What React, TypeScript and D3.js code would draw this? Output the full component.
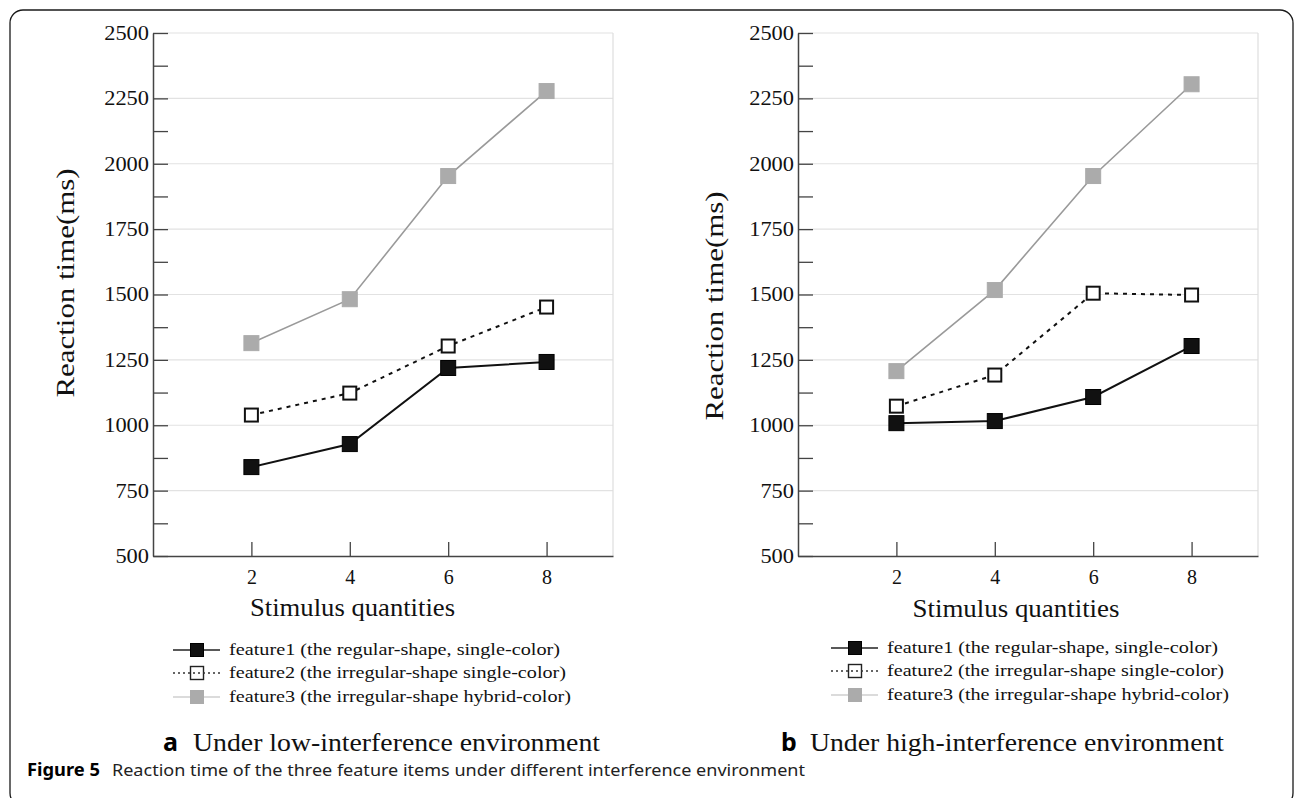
import * as d3 from "d3";
import React, { useEffect, useRef } from "react";

// x categories and y ticks
const quantities = [2, 4, 6, 8];
const yMajorTicks = [500, 750, 1000, 1250, 1500, 1750, 2000, 2250, 2500];
const yMinorTicks = [625, 875, 1125, 1375, 1625, 1875, 2125, 2375];

// (a) low-interference environment
const lowFeature1 = [840, 928, 1219, 1242];
const lowFeature2 = [1039, 1123, 1303, 1452];
const lowFeature3 = [1314, 1482, 1953, 2278];

// (b) high-interference environment
const highFeature1 = [1008, 1016, 1108, 1303];
const highFeature2 = [1073, 1192, 1505, 1498];
const highFeature3 = [1207, 1517, 1953, 2304];

const legendLabels = [
  "feature1 (the regular-shape, single-color)",
  "feature2 (the irregular-shape single-color)",
  "feature3 (the irregular-shape hybrid-color)",
];
const legendWidths = [331, 337, 342];

const SERIF = "'Liberation Serif', 'Times New Roman', Times, serif";
const SANS = "'Noto Sans', 'Open Sans', sans-serif";

const styles = [
  { line: "#111", width: 2, dash: null, fill: "#111", mark: "#000", legendLine: "#222" },
  { line: "#111", width: 2, dash: "4,5", fill: "#fff", mark: "#111", legendLine: "#333" },
  { line: "#9a9a9a", width: 1.6, dash: null, fill: "#ababab", mark: "#ababab", legendLine: "#cfcfcf" },
];

const panels = [
  {
    series: [lowFeature1, lowFeature2, lowFeature3],
    left: 153, right: 613, top: 33, bottom: 556,
    yTitle: { x: 74, y: 283 },
    xTitle: { x: 352.5, y: 616, w: 205 },
    legend: { x: 173, text: 229, ys: [650, 673, 697] },
    letter: "a", letterX: 163,
    sub: "Under low-interference environment", subX: 193, subW: 407,
  },
  {
    series: [highFeature1, highFeature2, highFeature3],
    left: 798, right: 1258, top: 33, bottom: 556,
    yTitle: { x: 723, y: 306 },
    xTitle: { x: 1016, y: 617, w: 207 },
    legend: { x: 831, text: 887, ys: [648, 671, 695] },
    letter: "b", letterX: 781,
    sub: "Under high-interference environment", subX: 810, subW: 414,
  },
];

const App = () => {
  const svgRef = useRef<SVGSVGElement>(null);

  useEffect(() => {
    const svg = d3.select(svgRef.current);
    svg.selectAll("*").remove();

    // frame
    svg
      .append("rect")
      .attr("x", 10)
      .attr("y", 10)
      .attr("width", 1283)
      .attr("height", 796)
      .attr("rx", 13)
      .attr("fill", "none")
      .attr("stroke", "#1a1a1a")
      .attr("stroke-width", 1.3);

    panels.forEach((p) => {
      const g = svg.append("g");
      const x = d3.scaleLinear().domain([0, 9.35]).range([p.left, p.right]);
      const y = d3.scaleLinear().domain([500, 2500]).range([p.bottom, p.top]);

      // gridlines
      g.append("g")
        .selectAll("line")
        .data(yMajorTicks.slice(1))
        .join("line")
        .attr("x1", p.left)
        .attr("x2", p.right)
        .attr("y1", (d) => y(d))
        .attr("y2", (d) => y(d))
        .attr("stroke", "#e2e2e2")
        .attr("stroke-width", 1.2);

      g.append("line")
        .attr("x1", p.right)
        .attr("x2", p.right)
        .attr("y1", p.top)
        .attr("y2", p.bottom)
        .attr("stroke", "#dedede")
        .attr("stroke-width", 1.2);

      // y axis
      const yAxis = g
        .append("g")
        .attr("transform", `translate(${p.left},0)`)
        .call(
          d3
            .axisLeft(y)
            .tickValues(yMajorTicks)
            .tickFormat(d3.format("d"))
            .tickSizeInner(-15)
            .tickSizeOuter(0)
            .tickPadding(4)
        );
      yAxis.select(".domain").attr("stroke", "#444").attr("stroke-width", 1.5);
      yAxis.selectAll(".tick line").attr("stroke", "#444").attr("stroke-width", 1.3);
      yAxis
        .selectAll(".tick text")
        .attr("font-family", SERIF)
        .attr("font-size", 20)
        .attr("fill", "#111")
        .attr("textLength", (d: any) => String(d).length * 11.2)
        .attr("lengthAdjust", "spacingAndGlyphs");

      const yMinor = g
        .append("g")
        .attr("transform", `translate(${p.left},0)`)
        .call(d3.axisLeft(y).tickValues(yMinorTicks).tickSizeInner(-15).tickSizeOuter(0).tickFormat(() => ""));
      yMinor.select(".domain").remove();
      yMinor.selectAll(".tick line").attr("stroke", "#444").attr("stroke-width", 1.3);

      // x axis
      const xAxis = g
        .append("g")
        .attr("transform", `translate(0,${p.bottom})`)
        .call(
          d3.axisBottom(x).tickValues(quantities).tickSizeInner(-14).tickSizeOuter(0).tickPadding(14)
        );
      xAxis.select(".domain").attr("stroke", "#444").attr("stroke-width", 1.5);
      xAxis.selectAll(".tick line").attr("stroke", "#444").attr("stroke-width", 1.3);
      xAxis
        .selectAll(".tick text")
        .attr("font-family", SERIF)
        .attr("font-size", 20)
        .attr("fill", "#111");

      // titles
      g.append("text")
        .attr("transform", `translate(${p.yTitle.x},${p.yTitle.y}) rotate(-90)`)
        .attr("text-anchor", "middle")
        .attr("font-family", SERIF)
        .attr("font-size", 26)
        .attr("textLength", 229)
        .attr("lengthAdjust", "spacingAndGlyphs")
        .attr("fill", "#111")
        .text("Reaction time(ms)");

      g.append("text")
        .attr("x", p.xTitle.x)
        .attr("y", p.xTitle.y)
        .attr("text-anchor", "middle")
        .attr("font-family", SERIF)
        .attr("font-size", 25)
        .attr("textLength", p.xTitle.w)
        .attr("lengthAdjust", "spacingAndGlyphs")
        .attr("fill", "#111")
        .text("Stimulus quantities");

      // series (draw light ones first)
      [2, 1, 0].forEach((i) => {
        const values = p.series[i];
        const s = styles[i];
        const pts = quantities.map((q, k) => [x(q), y(values[k])] as [number, number]);
        g.append("path")
          .datum(pts)
          .attr("fill", "none")
          .attr("stroke", s.line)
          .attr("stroke-width", s.width)
          .attr("stroke-dasharray", s.dash)
          .attr("d", d3.line());
        const size = i === 1 ? 13 : 15;
        g.append("g")
          .selectAll("rect")
          .data(pts)
          .join("rect")
          .attr("x", (d) => d[0] - size / 2)
          .attr("y", (d) => d[1] - size / 2)
          .attr("width", size)
          .attr("height", size)
          .attr("fill", s.fill)
          .attr("stroke", s.mark)
          .attr("stroke-width", i === 1 ? 2 : 1);
      });

      // legend
      legendLabels.forEach((label, i) => {
        const s = styles[i];
        const ly = p.legend.ys[i];
        const lg = g.append("g");
        const cx = p.legend.x + 24;
        const drawLine = () =>
          lg
            .append("line")
            .attr("x1", p.legend.x)
            .attr("x2", p.legend.x + 47)
            .attr("y1", ly)
            .attr("y2", ly)
            .attr("stroke", s.legendLine)
            .attr("stroke-width", i === 1 ? 1.4 : 1.5)
            .attr("stroke-dasharray", i === 1 ? "2,3" : null);
        if (i !== 1) drawLine();
        lg.append("rect")
          .attr("x", cx - 6.5)
          .attr("y", ly - 6.5)
          .attr("width", 13)
          .attr("height", 13)
          .attr("fill", s.fill)
          .attr("stroke", i === 1 ? "#222" : s.mark)
          .attr("stroke-width", i === 1 ? 1.4 : 1);
        if (i === 1) drawLine();
        lg.append("text")
          .attr("x", p.legend.text)
          .attr("y", ly + 5)
          .attr("font-family", SERIF)
          .attr("font-size", 17)
          .attr("textLength", legendWidths[i])
          .attr("lengthAdjust", "spacingAndGlyphs")
          .attr("fill", "#111")
          .text(label);
      });

      // panel subtitle
      g.append("text")
        .attr("x", p.letterX)
        .attr("y", 751)
        .attr("font-family", SANS)
        .attr("font-weight", 700)
        .attr("font-size", 25)
        .attr("fill", "#000")
        .text(p.letter);
      g.append("text")
        .attr("x", p.subX)
        .attr("y", 751)
        .attr("font-family", SERIF)
        .attr("font-size", 25)
        .attr("textLength", p.subW)
        .attr("lengthAdjust", "spacingAndGlyphs")
        .attr("fill", "#111")
        .text(p.sub);
    });

    // figure caption
    svg
      .append("text")
      .attr("x", 27)
      .attr("y", 776)
      .attr("font-family", SANS)
      .attr("font-weight", 700)
      .attr("font-size", 17)
      .attr("textLength", 73)
      .attr("lengthAdjust", "spacingAndGlyphs")
      .attr("fill", "#000")
      .text("Figure 5");
    svg
      .append("text")
      .attr("x", 112)
      .attr("y", 776)
      .attr("font-family", SANS)
      .attr("font-size", 17)
      .attr("textLength", 693)
      .attr("lengthAdjust", "spacingAndGlyphs")
      .attr("fill", "#222")
      .text("Reaction time of the three feature items under different interference environment");

    return () => {
      d3.select(svgRef.current).selectAll("*").remove();
    };
  }, []);

  return (
    <svg
      ref={svgRef}
      width={1295}
      height={798}
      style={{ position: "absolute", left: 0, top: 0, background: "#fff" }}
    />
  );
};

export default App;
